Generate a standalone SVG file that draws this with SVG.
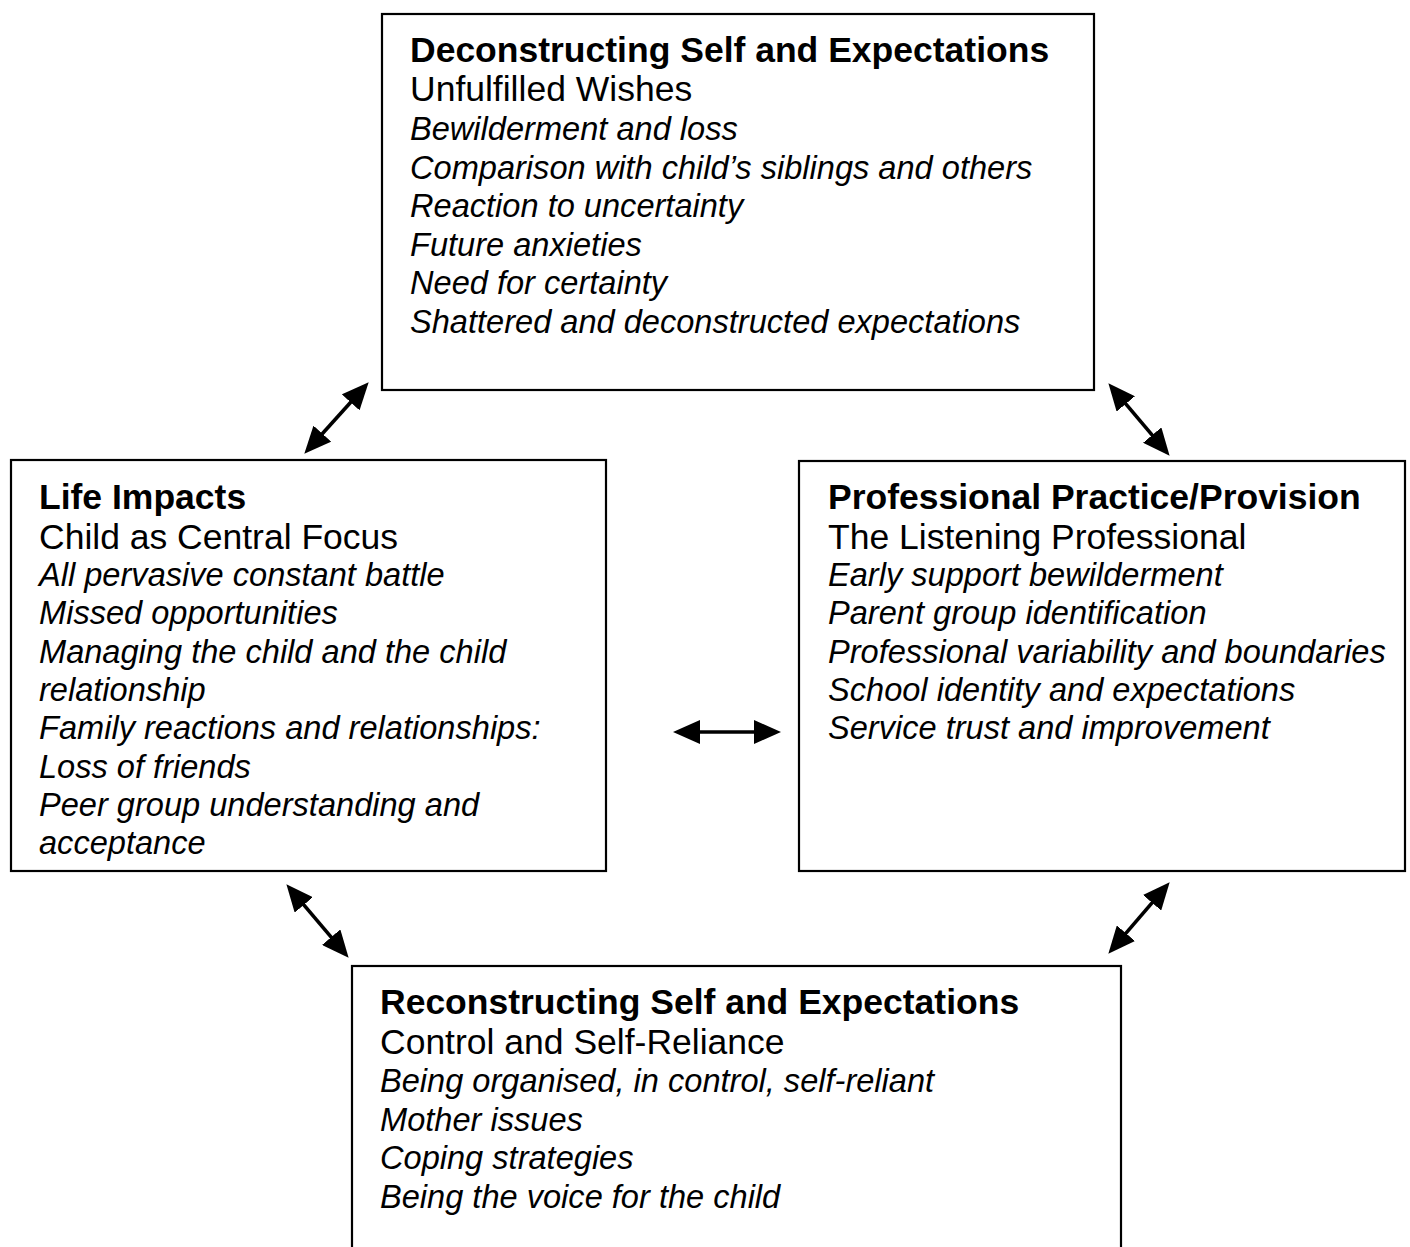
<svg xmlns="http://www.w3.org/2000/svg" width="1410" height="1247" viewBox="0 0 1410 1247">
<style>
.box{fill:#fff;stroke:#000;stroke-width:2.2}
text{font-family:"Liberation Sans",Arial,sans-serif;fill:#000}
.h{font-size:35.5px;font-weight:bold}
.s{font-size:35.5px}
.i{font-size:32.6px;font-style:italic}
.conn{stroke:#000;stroke-width:3.6;fill:none;marker-start:url(#ah);marker-end:url(#ah)}
</style>
<defs>
<marker id="ah" viewBox="0 0 27 24" refX="20" refY="12" markerWidth="27" markerHeight="24" markerUnits="userSpaceOnUse" orient="auto-start-reverse">
<path d="M0,0 L27,12 L0,24 z" fill="#000"/>
</marker>
</defs>
<rect width="1410" height="1247" fill="#fff"/>
<g id="top">
<rect class="box" x="382" y="14" width="712" height="376"/>
<text class="h" x="410" y="62">Deconstructing Self and Expectations</text>
<text class="s" x="410" y="101">Unfulfilled Wishes</text>
<text class="i" x="410" y="140">Bewilderment and loss</text>
<text class="i" x="410" y="178.5">Comparison with child’s siblings and others</text>
<text class="i" x="410" y="217">Reaction to uncertainty</text>
<text class="i" x="410" y="255.5">Future anxieties</text>
<text class="i" x="410" y="294">Need for certainty</text>
<text class="i" x="410" y="332.5">Shattered and deconstructed expectations</text>
</g>
<g id="left">
<rect class="box" x="11" y="460" width="595" height="411"/>
<text class="h" x="39" y="509">Life Impacts</text>
<text class="s" x="39" y="549">Child as Central Focus</text>
<text class="i" x="39" y="586">All pervasive constant battle</text>
<text class="i" x="39" y="624.3">Missed opportunities</text>
<text class="i" x="39" y="662.6">Managing the child and the child</text>
<text class="i" x="39" y="700.9">relationship</text>
<text class="i" x="39" y="739.2">Family reactions and relationships:</text>
<text class="i" x="39" y="777.5">Loss of friends</text>
<text class="i" x="39" y="815.8">Peer group understanding and</text>
<text class="i" x="39" y="854.1">acceptance</text>
</g>
<g id="right">
<rect class="box" x="799" y="461" width="606" height="410"/>
<text class="h" x="828" y="509">Professional Practice/Provision</text>
<text class="s" x="828" y="549">The Listening Professional</text>
<text class="i" x="828" y="586">Early support bewilderment</text>
<text class="i" x="828" y="624.3">Parent group identification</text>
<text class="i" x="828" y="662.6">Professional variability and boundaries</text>
<text class="i" x="828" y="700.9">School identity and expectations</text>
<text class="i" x="828" y="739.2">Service trust and improvement</text>
</g>
<g id="bottom">
<rect class="box" x="352" y="966" width="769" height="300"/>
<text class="h" x="380" y="1014">Reconstructing Self and Expectations</text>
<text class="s" x="380" y="1054">Control and Self-Reliance</text>
<text class="i" x="380" y="1092">Being organised, in control, self-reliant</text>
<text class="i" x="380" y="1130.5">Mother issues</text>
<text class="i" x="380" y="1169">Coping strategies</text>
<text class="i" x="380" y="1207.5">Being the voice for the child</text>
</g>
<g id="connectors">
<path class="conn" d="M309,448.5 L364,387.5"/>
<path class="conn" d="M1112.9,388.6 L1165.1,450.4"/>
<path class="conn" d="M680,732 L774,732"/>
<path class="conn" d="M290.9,889.6 L344.1,952.4"/>
<path class="conn" d="M1165.1,887.6 L1112.9,948.4"/>
</g>
</svg>
